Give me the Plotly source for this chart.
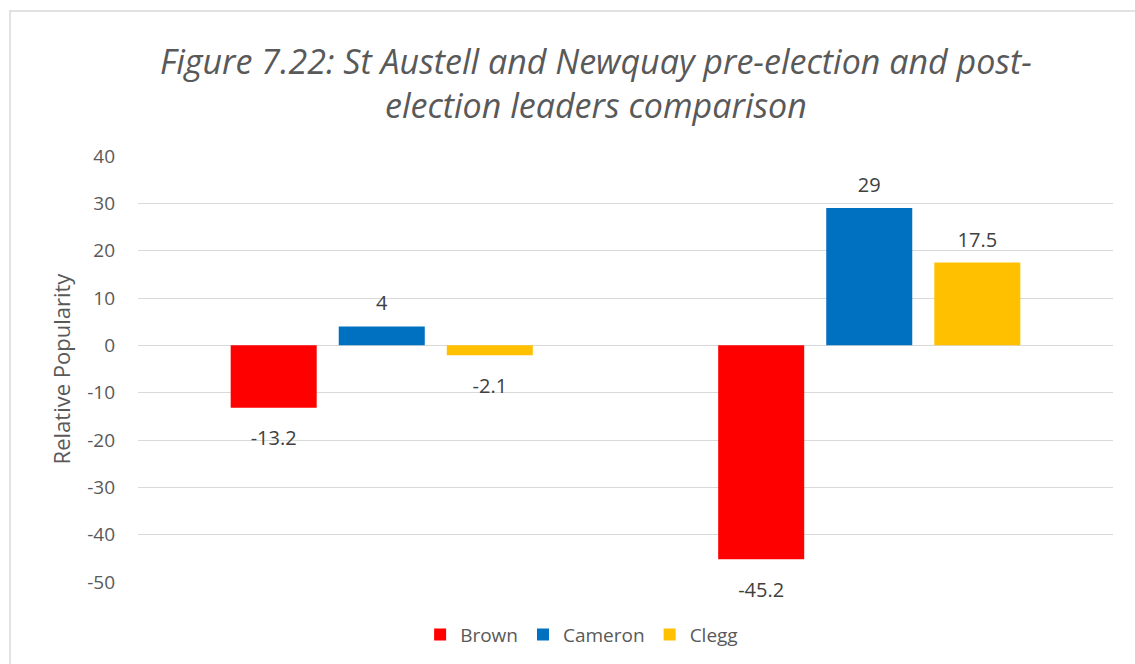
import plotly.graph_objects as go

# data
periods = ['Pre-election', 'Post-election']
leaders = ['Brown', 'Cameron', 'Clegg']
brown = [-13.2, -45.2]
cameron = [4, 29]
clegg = [-2.1, 17.5]
y_ticks = [40, 30, 20, 10, 0, -10, -20, -30, -40, -50]

colors = ['#FF0000', '#0070C0', '#FFC000']
text_grey = '#595959'
label_grey = '#404040'
font_family = 'Open Sans'

fig = go.Figure()

series = [brown, cameron, clegg]

# bars
for name, vals, col in zip(leaders, series, colors):
    fig.add_trace(go.Bar(
        x=periods, y=vals, name=name,
        marker=dict(color=col, line=dict(width=0)),
        hoverinfo='x+y+name',
    ))

# data labels, offset from the bar ends (grouped scatter lines up with bars)
for name, vals in zip(leaders, series):
    fig.add_trace(go.Scatter(
        x=periods, y=vals, name=name + ' label',
        mode='markers+text',
        marker=dict(size=[16 if v >= 0 else 34 for v in vals], opacity=0),
        text=[f'{v:g}' for v in vals],
        textposition=['top center' if v >= 0 else 'bottom center' for v in vals],
        textfont=dict(family=font_family, size=20, color=label_grey),
        showlegend=False,
        hoverinfo='skip',
        cliponaxis=False,
    ))

fig.update_layout(
    width=1135, height=664,
    autosize=False,
    barmode='group',
    bargap=0.335,
    bargroupgap=0.204,
    scattermode='group',
    scattergap=0.335,
    plot_bgcolor='white',
    paper_bgcolor='white',
    font=dict(family=font_family, color=text_grey),
    margin=dict(l=138, r=22, t=156, b=82, autoexpand=False),
    xaxis=dict(
        showticklabels=False,
        showgrid=False,
        zeroline=False,
        showline=False,
    ),
    yaxis=dict(
        range=[-50, 40],
        tickvals=y_ticks,
        ticktext=[str(v) for v in y_ticks],
        showgrid=True,
        gridcolor='#D9D9D9',
        gridwidth=1,
        zeroline=True,
        zerolinecolor='#D9D9D9',
        zerolinewidth=1,
        showline=False,
        ticklabelstandoff=22,
        tickfont=dict(family=font_family, size=19, color=text_grey),
        title=dict(text='Relative Popularity', standoff=10,
                   font=dict(family=font_family, size=22, color=text_grey)),
    ),
    legend=dict(
        orientation='h',
        x=0.455, xanchor='center',
        y=-0.079, yanchor='top',
        font=dict(family=font_family, size=19, color=text_grey),
        itemwidth=30,
    ),
    annotations=[dict(
        xref='paper', yref='paper',
        x=(596 - 138) / 975, y=1 + (156 - 83) / 426,
        xanchor='center', yanchor='middle',
        text='<i>Figure 7.22: St Austell and Newquay pre-election and post-<br>election leaders comparison</i>',
        showarrow=False,
        font=dict(family=font_family, size=34, color=text_grey),
    )],
    shapes=[dict(
        type='rect', xref='paper', yref='paper',
        x0=(10 - 138) / 975, x1=(1140 - 138) / 975,
        y0=(582 - 670) / 426, y1=1 + (156 - 11) / 426,
        line=dict(color='#D9D9D9', width=1.5),
        layer='below',
    )],
)

fig.write_html('out.html', config={'displayModeBar': False},
               post_script="document.body.style.margin='0';")
